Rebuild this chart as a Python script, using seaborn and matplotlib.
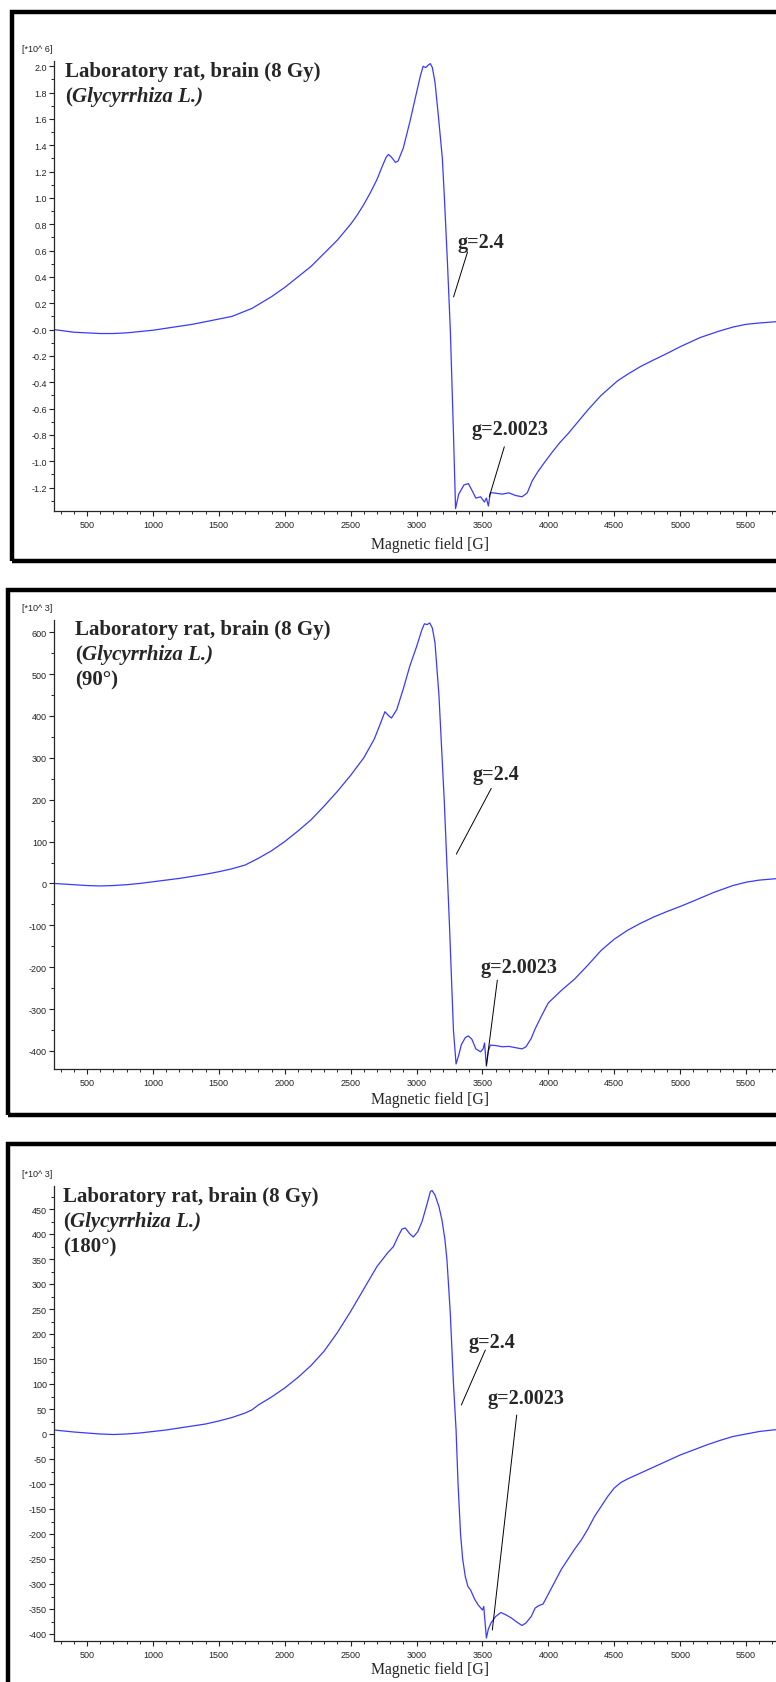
import numpy as np
import pandas as pd
import matplotlib
matplotlib.use("Agg")
import matplotlib.pyplot as plt
import seaborn as sns
from matplotlib.patches import Rectangle
from matplotlib.ticker import MultipleLocator, FixedLocator, FixedFormatter

# EPR spectra, brain of laboratory rat (8 Gy), Glycyrrhiza L.
# panel 1: 0 deg, intensity in 10^6
field1 = [250, 400, 500, 600, 700, 800, 900, 1000, 1100, 1200, 1300, 1400, 1500, 1600, 1650,
          1700, 1750, 1800, 1900, 2000, 2100, 2200, 2300, 2400, 2500, 2550, 2600, 2650, 2700,
          2740, 2770, 2787, 2810, 2840, 2860, 2900, 2950, 3000, 3030, 3050, 3070, 3090, 3105,
          3120, 3140, 3166, 3196, 3212, 3235, 3257, 3280, 3296, 3320, 3360, 3393, 3420, 3450,
          3486, 3515, 3530, 3545, 3560, 3581, 3650, 3700, 3750, 3800, 3840, 3877, 3920, 3970,
          4030, 4086, 4150, 4200, 4300, 4400, 4524, 4600, 4700, 4800, 4903, 5000, 5153, 5300,
          5404, 5500, 5600, 5730, 5850, 6000]
int1 = [0.00, -0.02, -0.025, -0.03, -0.03, -0.025, -0.015, -0.005, 0.01, 0.025, 0.04, 0.06,
        0.08, 0.10, 0.12, 0.14, 0.16, 0.19, 0.25, 0.32, 0.40, 0.48, 0.58, 0.68, 0.80, 0.87,
        0.95, 1.04, 1.14, 1.24, 1.31, 1.33, 1.31, 1.27, 1.28, 1.38, 1.58, 1.80, 1.93, 2.00,
        1.99, 2.01, 2.02, 1.99, 1.88, 1.62, 1.30, 0.99, 0.50, -0.02, -0.78, -1.36, -1.25, -1.18,
        -1.17, -1.22, -1.28, -1.27, -1.31, -1.28, -1.34, -1.24, -1.24, -1.25, -1.24, -1.26,
        -1.27, -1.24, -1.15, -1.08, -1.01, -0.93, -0.86, -0.79, -0.73, -0.61, -0.50, -0.39,
        -0.34, -0.28, -0.23, -0.18, -0.13, -0.06, -0.01, 0.02, 0.04, 0.05, 0.06, 0.07, 0.07]

# panel 2: 90 deg, intensity in 10^3
field2 = [250, 400, 500, 600, 700, 800, 900, 1000, 1100, 1200, 1300, 1400, 1500, 1600, 1700,
          1750, 1800, 1900, 2000, 2100, 2200, 2300, 2400, 2500, 2600, 2680, 2730, 2760, 2790,
          2810, 2850, 2900, 2950, 3000, 3040, 3060, 3080, 3100, 3120, 3140, 3170, 3210, 3250,
          3280, 3300, 3320, 3340, 3370, 3393, 3420, 3450, 3486, 3505, 3516, 3530, 3545, 3560,
          3600, 3650, 3700, 3750, 3800, 3830, 3870, 3900, 3950, 4000, 4100, 4200, 4300, 4400,
          4500, 4600, 4700, 4800, 4900, 5000, 5100, 5250, 5400, 5500, 5600, 5750, 6000]
int2 = [0, -3, -5, -6, -5, -3, 0, 4, 8, 12, 17, 22, 28, 35, 44,
        52, 60, 78, 100, 125, 152, 185, 220, 258, 300, 345, 385, 410, 400,
        395, 415, 465, 520, 565, 605, 620, 618, 622, 610, 575, 450, 200, -100,
        -350, -431, -410, -385, -368, -364, -372, -395, -402, -395, -381, -436, -400, -386,
        -387, -390, -389, -392, -395, -390, -370, -347, -315, -285, -255, -228, -195, -160,
        -133, -112, -95, -80, -67, -55, -42, -22, -5, 3, 8, 12, 14]

# panel 3: 180 deg, intensity in 10^3
field3 = [250, 400, 500, 600, 700, 800, 900, 1000, 1100, 1250, 1400, 1500, 1600, 1700, 1750,
          1800, 1900, 2000, 2100, 2200, 2300, 2400, 2500, 2600, 2700, 2780, 2825, 2860, 2890,
          2915, 2950, 2976, 3010, 3042, 3080, 3105, 3118, 3140, 3170, 3193, 3215, 3231, 3256,
          3280, 3300, 3315, 3334, 3350, 3370, 3390, 3410, 3440, 3468, 3500, 3510, 3530, 3545,
          3565, 3600, 3640, 3680, 3720, 3760, 3800, 3830, 3870, 3900, 3930, 3960, 4000, 4050,
          4100, 4150, 4200, 4250, 4300, 4350, 4400, 4450, 4500, 4550, 4600, 4650, 4750, 4850,
          5000, 5100, 5200, 5300, 5400, 5500, 5600, 5700, 5800, 6000]
int3 = [8, 4, 2, 0, -1, 0, 2, 5, 8, 14, 20, 26, 33, 42, 48,
        58, 74, 92, 113, 137, 166, 203, 245, 290, 335, 362, 375, 395, 410,
        412, 400, 394, 405, 425, 460, 485, 487, 478, 455, 428, 390, 348, 242,
        102, 8, -100, -200, -250, -285, -305, -312, -330, -342, -352, -345, -408, -390,
        -378, -365, -357, -362, -368, -376, -383, -378, -365, -348, -343, -340, -320, -295,
        -270, -250, -230, -212, -190, -165, -145, -125, -108, -97, -90, -84, -72, -60,
        -42, -32, -22, -13, -5, 0, 5, 8, 10, 12]

x_ticks = [500, 1000, 1500, 2000, 2500, 3000, 3500, 4000, 4500, 5000, 5500]
y_ticks1 = [-1.2, -1.0, -0.8, -0.6, -0.4, -0.2, 0.0, 0.2, 0.4, 0.6, 0.8, 1.0, 1.2, 1.4, 1.6, 1.8, 2.0]
y_labels1 = ["-1.2", "-1.0", "-0.8", "-0.6", "-0.4", "-0.2", "-0.0", "0.2", "0.4", "0.6", "0.8",
             "1.0", "1.2", "1.4", "1.6", "1.8", "2.0"]
y_ticks2 = [-400, -300, -200, -100, 0, 100, 200, 300, 400, 500, 600]
y_ticks3 = [-400, -350, -300, -250, -200, -150, -100, -50, 0, 50, 100, 150, 200, 250, 300, 350, 400, 450]

titles = [["Laboratory rat, brain (8 Gy)", "(Glycyrrhiza L.)"],
          ["Laboratory rat, brain (8 Gy)", "(Glycyrrhiza L.)", "(90°)"],
          ["Laboratory rat, brain (8 Gy)", "(Glycyrrhiza L.)", "(180°)"]]
scales = ["[*10^ 6]", "[*10^ 3]", "[*10^ 3]"]

sns.set_style("ticks")
plt.rcParams["font.family"] = ["Liberation Sans", "DejaVu Sans"]

W, H = 776, 1683
fig = plt.figure(figsize=(W / 100, H / 100), dpi=100)


def fx(px):
    return px / W


def fy(py):
    return 1 - py / H


line_col = "#3a3aff"
serif = ["Liberation Serif", "DejaVu Serif"]

# layout in pixels: frame, axes top/bottom, x label y, title position
panels = [
    dict(fl=12, ft=13, fb=562, at=62, ab=512, xl=545, tx=65, ty=72, dy=25, yl=(-1.378, 2.04),
         x=field1, y=int1, yt=y_ticks1, ylab=y_labels1, minor=0.1,
         g24=((3311, 0.666), (3387, 0.59), (3281, 0.248)),
         g20=((3416, -0.754), (3666, -0.89), (3552, -1.27))),
    dict(fl=8, ft=591, fb=1116, at=621, ab=1070, xl=1100, tx=75, ty=630, dy=25, yl=(-443, 629),
         x=field2, y=int2, yt=y_ticks2, ylab=[str(v) for v in y_ticks2], minor=50,
         g24=((3423, 261), (3567, 227), (3302, 70)),
         g20=((3482, -200), (3613, -231), (3530, -434))),
    dict(fl=8, ft=1145, fb=1720, at=1187, ab=1642, xl=1670, tx=63, ty=1197, dy=25, yl=(-414, 496),
         x=field3, y=int3, yt=y_ticks3, ylab=[str(v) for v in y_ticks3], minor=25,
         g24=((3397, 184), (3522, 168), (3340, 58)),
         g20=((3540, 72), (3760, 38), (3575, -392))),
]

ax_left = 54
ax_width = 758  # 250..6000 G, runs past the right edge of the picture

for i, p in enumerate(panels):
    # black frame around each spectrum
    fig.add_artist(Rectangle((fx(p["fl"]), fy(p["fb"])), fx(900 - p["fl"]), (p["fb"] - p["ft"]) / H,
                             transform=fig.transFigure, fill=False, edgecolor="black", linewidth=3.2))

    ax = fig.add_axes([fx(ax_left), fy(p["ab"]), ax_width / W, (p["ab"] - p["at"]) / H])
    df = pd.DataFrame({"field": p["x"], "val": p["y"]})
    sns.lineplot(data=df, x="field", y="val", ax=ax, color=line_col, linewidth=0.9, estimator=None)

    ax.set_xlim(250, 6000)
    ax.set_ylim(*p["yl"])
    ax.xaxis.set_major_locator(FixedLocator(x_ticks))
    ax.xaxis.set_minor_locator(MultipleLocator(100))
    ax.yaxis.set_major_locator(FixedLocator(p["yt"]))
    ax.yaxis.set_major_formatter(FixedFormatter(p["ylab"]))
    ax.yaxis.set_minor_locator(MultipleLocator(p["minor"]))
    ax.tick_params(axis="both", which="major", length=3.5, width=0.8, labelsize=6.5, pad=1.5, colors="#222222")
    ax.tick_params(axis="both", which="minor", length=2, width=0.7)
    ax.tick_params(axis="x", which="major", pad=3)
    for s in ["top", "right"]:
        ax.spines[s].set_visible(False)
    for s in ["left", "bottom"]:
        ax.spines[s].set_linewidth(0.9)
    ax.set_xlabel("")
    ax.set_ylabel("")
    ax.grid(False)

    fig.text(fx(22), fy(p["at"] - 12), scales[i], fontsize=6.5, color="#222222", va="center")
    fig.text(fx(430), fy(p["xl"]), "Magnetic field [G]", family=serif, fontsize=11.3,
             ha="center", va="center")

    # sample description
    for k, t in enumerate(titles[i]):
        yy = fy(p["ty"] + p["dy"] * k)
        if k == 1:
            fig.text(fx(p["tx"]), yy, "(", family=serif, fontsize=15, fontweight="bold", va="center")
            fig.text(fx(p["tx"] + 7), yy, "Glycyrrhiza L.)", family=serif,
                     fontsize=15, fontweight="bold", style="italic", va="center")
        else:
            fig.text(fx(p["tx"]), yy, t, family=serif, fontsize=15, fontweight="bold", va="center")

    # g-factor labels with leader lines
    for lab, (txt, top, bot) in (("g=2.4", p["g24"]), ("g=2.0023", p["g20"])):
        ax.text(txt[0], txt[1], lab, family=serif, fontsize=14.5, fontweight="bold", va="center")
        ax.plot([top[0], bot[0]], [top[1], bot[1]], color="black", linewidth=0.7)

fig.savefig("out.png", dpi=100, facecolor="white")
